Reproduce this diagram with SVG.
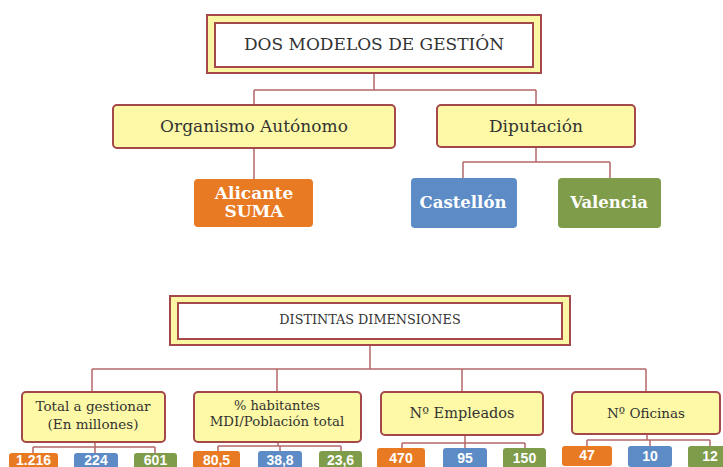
<svg xmlns="http://www.w3.org/2000/svg" width="723" height="467" viewBox="0 0 723 467">
<style>
.frame{fill:#FBF6A3;stroke:#A5484B;stroke-width:2}
.inner{fill:#FFFFFF;stroke:#A5484B;stroke-width:2}
.box{fill:#FDF9A6;stroke:#A5484B;stroke-width:2}
.or{fill:#E87A24}
.bl{fill:#5C8BC6}
.gr{fill:#7F9C4A}
.t{font-family:"DejaVu Serif","Liberation Serif",serif;fill:#333333;text-anchor:middle}
.w{font-family:"DejaVu Serif","Liberation Serif",serif;fill:#FFFFFF;font-weight:bold;text-anchor:middle}
.n{font-family:"Liberation Sans",Arial,sans-serif;fill:#FFFFFF;font-weight:bold;text-anchor:middle;font-size:14px}
.c{fill:none;stroke:#B4676A;stroke-width:1.5}
</style>
<g id="connectors">
<path class="c" d="M374 74 V90 M254 90 H536 M254 90 V105 M536 90 V105"/>
<path class="c" d="M254 148 V179"/>
<path class="c" d="M536 147 V162 M463 162 H610 M463 162 V178 M610 162 V178"/>
<path class="c" d="M370 345 V369 M92 369 H646 M92 369 V392 M277 369 V392 M462 369 V392 M646 369 V392"/>
<path class="c" d="M95 442 V447 M33 447 H155 M33 447 V453 M95 447 V453 M155 447 V453"/>
<path class="c" d="M278 442 V446 M218 446 H341 M218 446 V451 M280 446 V451 M341 446 V451"/>
<path class="c" d="M465 435 V443 M402 443 H525 M402 443 V448 M465 443 V448 M525 443 V448"/>
<path class="c" d="M647 434 V440 M587 440 H710 M587 440 V446 M650 440 V446 M710 440 V446"/>
</g>
<g id="dos-modelos">
<rect class="frame" x="207" y="15" width="334" height="58"/>
<rect class="inner" x="215" y="23" width="318" height="44"/>
<text class="t" x="374" y="50" font-size="17">DOS MODELOS DE GESTIÓN</text>
</g>
<g id="organismo">
<rect class="box" x="113" y="105" width="282" height="43" rx="4"/>
<text class="t" x="254" y="132" font-size="17">Organismo Autónomo</text>
</g>
<g id="diputacion">
<rect class="box" x="437" y="105" width="198" height="42" rx="4"/>
<text class="t" x="536" y="132" font-size="17">Diputación</text>
</g>
<g id="alicante">
<rect class="or" x="194" y="179" width="119" height="48" rx="4"/>
<text class="w" x="254" y="199" font-size="17">Alicante</text>
<text class="w" x="254" y="217" font-size="17">SUMA</text>
</g>
<g id="castellon">
<rect class="bl" x="411" y="178" width="106" height="50" rx="4"/>
<text class="w" x="463" y="208" font-size="16.5">Castellón</text>
</g>
<g id="valencia">
<rect class="gr" x="558" y="178" width="103" height="50" rx="4"/>
<text class="w" x="609" y="208" font-size="16.5">Valencia</text>
</g>
<g id="distintas">
<rect class="frame" x="170" y="296" width="400" height="49"/>
<rect class="inner" x="178" y="303" width="384" height="36"/>
<text class="t" x="370" y="324" font-size="12.8">DISTINTAS DIMENSIONES</text>
</g>
<g id="total">
<rect class="box" x="22" y="392" width="143" height="50" rx="4"/>
<text class="t" x="93" y="411" font-size="13.5">Total a gestionar</text>
<text class="t" x="93" y="429" font-size="13.5">(En millones)</text>
</g>
<g id="habitantes">
<rect class="box" x="194" y="392" width="167" height="50" rx="4"/>
<text class="t" x="277" y="410" font-size="13">% habitantes</text>
<text class="t" x="277" y="426" font-size="13.3">MDI/Población total</text>
</g>
<g id="empleados">
<rect class="box" x="381" y="392" width="162" height="43" rx="4"/>
<text class="t" x="462" y="418" font-size="14.5">Nº Empleados</text>
</g>
<g id="oficinas">
<rect class="box" x="572" y="392" width="148" height="42" rx="4"/>
<text class="t" x="646" y="418" font-size="13.5">Nº Oficinas</text>
</g>
<g id="total-values">
<rect class="or" x="9" y="453" width="49" height="22" rx="3"/>
<text class="n" x="33.5" y="465">1.216</text>
<rect class="bl" x="74" y="453" width="44" height="22" rx="3"/>
<text class="n" x="96" y="465">224</text>
<rect class="gr" x="134" y="453" width="43" height="22" rx="3"/>
<text class="n" x="155.5" y="465">601</text>
</g>
<g id="habitantes-values">
<rect class="or" x="193" y="451" width="47" height="22" rx="3"/>
<text class="n" x="216.5" y="465">80,5</text>
<rect class="bl" x="258" y="451" width="44" height="22" rx="3"/>
<text class="n" x="280" y="465">38,8</text>
<rect class="gr" x="319" y="451" width="43" height="22" rx="3"/>
<text class="n" x="340.5" y="465">23,6</text>
</g>
<g id="empleados-values">
<rect class="or" x="377" y="448" width="48" height="22" rx="3"/>
<text class="n" x="401" y="463">470</text>
<rect class="bl" x="443" y="448" width="44" height="22" rx="3"/>
<text class="n" x="465" y="463">95</text>
<rect class="gr" x="503" y="448" width="43" height="22" rx="3"/>
<text class="n" x="524.5" y="463">150</text>
</g>
<g id="oficinas-values">
<rect class="or" x="562" y="446" width="50" height="20" rx="3"/>
<text class="n" x="587" y="460">47</text>
<rect class="bl" x="628" y="446" width="44" height="21" rx="3"/>
<text class="n" x="650" y="461">10</text>
<rect class="gr" x="688" y="446" width="44" height="22" rx="3"/>
<text class="n" x="710" y="461">12</text>
</g>
</svg>
